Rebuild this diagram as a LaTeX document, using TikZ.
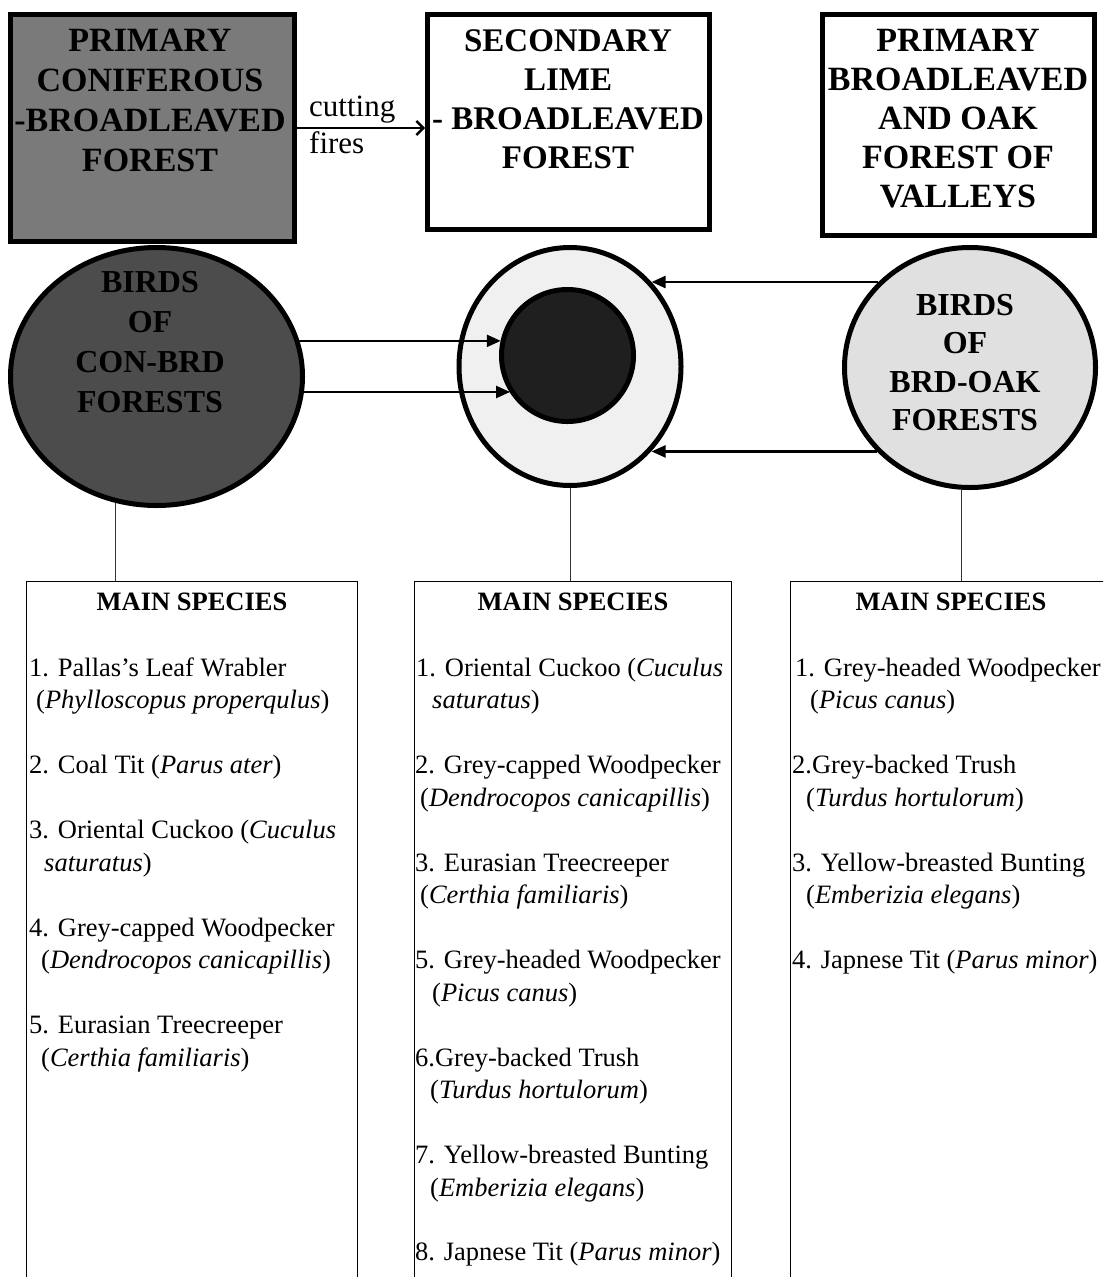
\documentclass[tikz,border=0pt]{standalone}
\usepackage{fontspec}
\setmainfont{Liberation Serif}
\usetikzlibrary{arrows.meta,shapes.geometric}
\begin{document}
\begin{tikzpicture}[x=1pt,y=-1pt,
  thickbox/.style={draw, line width=5pt, rectangle, inner sep=0pt},
  thickell/.style={draw, line width=5pt, ellipse, inner sep=0pt},
  titletext/.style={align=center, anchor=north, inner sep=0pt, font=\fontsize{33}{39}\selectfont\bfseries},
  listbox/.style={draw, line width=1.3pt, rectangle, inner sep=0pt, anchor=north west},
  ln/.style={anchor=base west, inner sep=0pt, font=\fontsize{26.5}{32.5}\selectfont},
  hdr/.style={anchor=base, inner sep=0pt, font=\fontsize{26.5}{32.5}\selectfont\bfseries},
  lbl/.style={anchor=base west, inner sep=0pt, font=\fontsize{31}{36}\selectfont},
  arr/.style={line width=2.4pt, -{Triangle[length=14pt,width=12pt]}},
  cutarr/.style={line width=2.4pt, -{Straight Barb[length=7pt,width=14pt]}},
  conn/.style={line width=1pt, black!80}]
\useasboundingbox (0,0) rectangle (1103,1277);
\clip (0,0) rectangle (1103,1277);
\fill[white] (0,0) rectangle (1103,1277);

% top boxes
\node[thickbox, fill=black!52, minimum width=284pt, minimum height=227pt] (b1) at (152.5,128) {};
\node[thickbox, fill=white, minimum width=282pt, minimum height=215pt] (b2) at (568.5,122) {};
\node[thickbox, fill=white, minimum width=272pt, minimum height=221pt] (b3) at (958.5,125) {};
\node[titletext, font=\fontsize{34}{40}\selectfont\bfseries] (t1) at (150,29) {PRIMARY\\CONIFEROUS\\-BROADLEAVED\\FOREST};
\node[titletext] (t2) at (568,29) {SECONDARY\\LIME\\- BROADLEAVED\\FOREST};
\node[titletext, font=\fontsize{34}{39}\selectfont\bfseries] (t3) at (958,29) {PRIMARY\\BROADLEAVED\\AND OAK\\FOREST OF\\VALLEYS};

% cutting fires arrow
\draw[cutarr] (b1.east) -- (b2.west |- b1.east);
\node[lbl] (cut) at (309,116) {cutting};
\node[lbl] (fir) at (309,153) {fires};

% circles
\node[thickell, fill=black!70, minimum width=292pt, minimum height=258pt] (c1) at (156.5,376.5) {};
\node[thickell, fill=black!6, minimum width=222pt, minimum height=238pt] (co) at (570,366.5) {};
\node[thickell, fill=black!88, minimum width=132pt, minimum height=132pt] (ci) at (567.5,355.5) {};
\node[thickell, fill=black!12, minimum width=251pt, minimum height=240pt] (c3) at (970,367.5) {};
\node[titletext, font=\fontsize{32}{40}\selectfont\bfseries] (ct1) at (150,271) {BIRDS\\OF\\CON-BRD\\FORESTS};
\node[titletext, font=\fontsize{32}{38.5}\selectfont\bfseries] (ct3) at (965,294) {BIRDS\\OF\\BRD-OAK\\FORESTS};

% arrows between circles
\draw[arr] (c1.14) -- (ci.167 |- c1.14);
\draw[arr] (c1.-6.4) -- (ci.213 |- c1.-6.4);
\draw[arr] (c3.137) -- (co.46 |- c3.137);
\draw[arr] (c3.222) -- (co.-46.5 |- c3.222);

% species boxes
\node[listbox, minimum width=331pt, minimum height=720pt] (lb) at (26,581) {};
\node[listbox, minimum width=317pt, minimum height=720pt] (mb) at (414,581) {};
\node[listbox, minimum width=340pt, minimum height=720pt] (rb) at (790,581) {};

% connectors circle -> box
\draw[conn] (c1.252) -- (c1.252 |- lb.north);
\draw[conn] (co.south) -- (co.south |- mb.north);
\draw[conn] (c3.-94) -- (c3.-94 |- rb.north);

% headers
\node[hdr] (hl) at (192,610) {MAIN SPECIES};
\node[hdr] (hm) at (573,610) {MAIN SPECIES};
\node[hdr] (hr) at (951,610) {MAIN SPECIES};

% left list
\node[ln] (l1) at (29,676) {1. Pallas’s Leaf Wrabler};
\node[ln] (l2) at (36,708) {(\textit{Phylloscopus properqulus})};
\node[ln] (l3) at (29,773) {2. Coal Tit (\textit{Parus ater})};
\node[ln] (l4) at (29,838) {3. Oriental Cuckoo (\textit{Cuculus}};
\node[ln] (l5) at (44,871) {\textit{saturatus})};
\node[ln] (l6) at (29,936) {4. Grey-capped Woodpecker};
\node[ln] (l7) at (41,968) {(\textit{Dendrocopos canicapillis})};
\node[ln] (l8) at (29,1033) {5. Eurasian Treecreeper};
\node[ln] (l9) at (41,1066) {(\textit{Certhia familiaris})};

% middle list
\node[ln] (m1) at (416,676) {1. Oriental Cuckoo (\textit{Cuculus}};
\node[ln] (m2) at (432,708) {\textit{saturatus})};
\node[ln] (m3) at (415,773) {2. Grey-capped Woodpecker};
\node[ln] (m4) at (420,806) {(\textit{Dendrocopos canicapillis})};
\node[ln] (m5) at (415,871) {3. Eurasian Treecreeper};
\node[ln] (m6) at (420,903) {(\textit{Certhia familiaris})};
\node[ln] (m7) at (415,968) {5. Grey-headed Woodpecker};
\node[ln] (m8) at (432,1001) {(\textit{Picus canus})};
\node[ln] (m9) at (415,1066) {6.Grey-backed Trush};
\node[ln] (m10) at (430,1098) {(\textit{Turdus hortulorum})};
\node[ln] (m11) at (415,1163) {7. Yellow-breasted Bunting};
\node[ln] (m12) at (430,1196) {(\textit{Emberizia elegans})};
\node[ln] (m13) at (415,1260) {8. Japnese Tit (\textit{Parus minor})};

% right list
\node[ln] (r1) at (795,676) {1. Grey-headed Woodpecker};
\node[ln] (r2) at (810,708) {(\textit{Picus canus})};
\node[ln] (r3) at (792,773) {2.Grey-backed Trush};
\node[ln] (r4) at (806,806) {(\textit{Turdus hortulorum})};
\node[ln] (r5) at (792,871) {3. Yellow-breasted Bunting};
\node[ln] (r6) at (806,903) {(\textit{Emberizia elegans})};
\node[ln] (r7) at (792,968) {4. Japnese Tit (\textit{Parus minor})};
\end{tikzpicture}
\end{document}
